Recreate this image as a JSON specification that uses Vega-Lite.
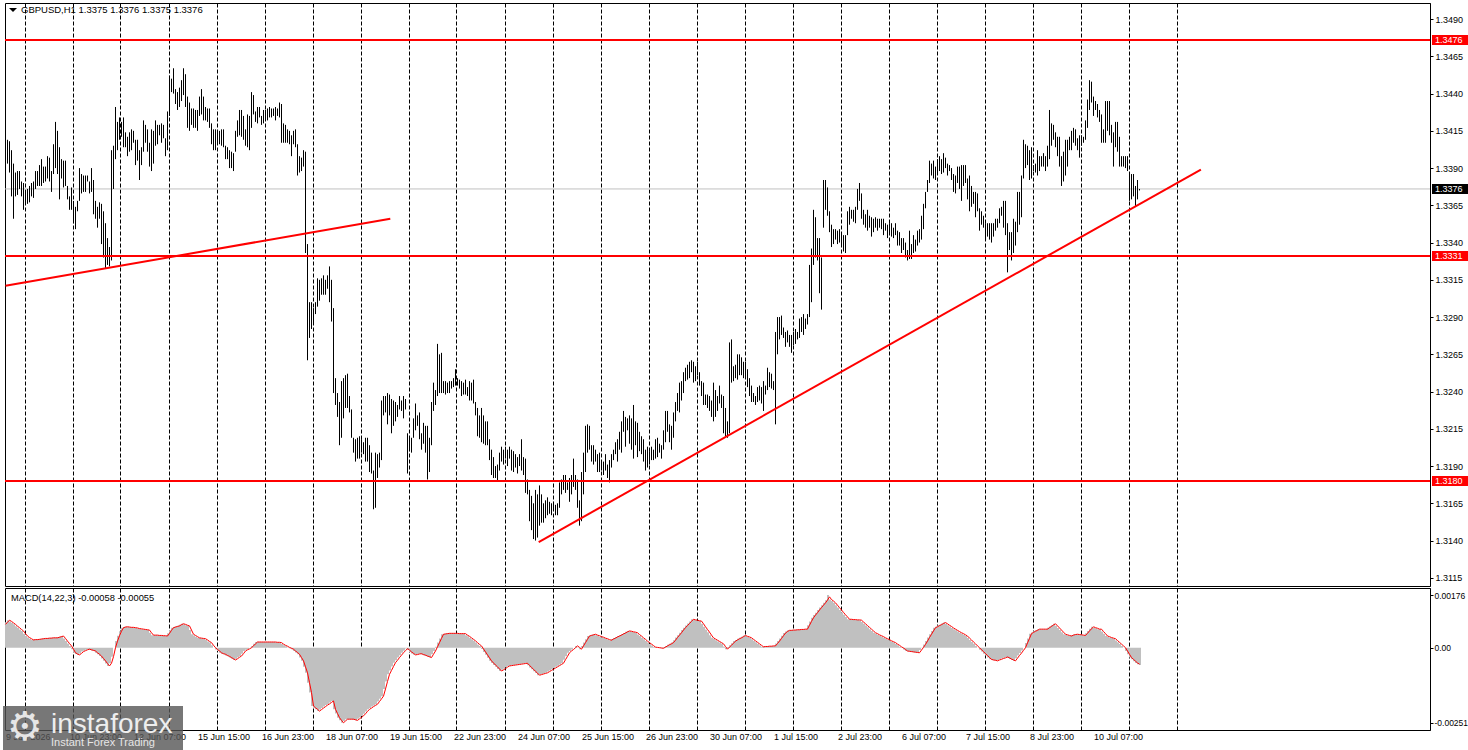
{
"$schema":"https://vega.github.io/schema/vega-lite/v6.json",
"background":"#ffffff",
"padding":{"left":2,"top":2,"right":0,"bottom":0},
"autosize":{"type":"pad"},
"spacing":0,
"config":{"font":"Liberation Sans","view":{"stroke":"#000000","strokeWidth":1},"axis":{"labelFont":"Liberation Sans","labelFontSize":9,"labelColor":"#000000","tickColor":"#000000","domainColor":"#000000","title":null,"labelOverlap":false,"labelBound":false,"labelFlush":false,"tickCount":200}},
"datasets":{
"levels":[{"p":1.3476,"k":"level"},{"p":1.3331,"k":"level"},{"p":1.318,"k":"level"},{"p":1.3376,"k":"last"}],
"trends":[{"i1":0,"p1":1.3311,"i2":192.4,"p2":1.3356},{"i1":266.6,"p1":1.3139,"i2":597.7,"p2":1.3389}],
"bars":[
{"i":0,"h":1.3405,"l":1.3396,"m":0.00085,"s":0.00078},
{"i":1,"h":1.3409,"l":1.3393,"m":0.00092,"s":0.00085},
{"i":2,"h":1.3408,"l":1.3387,"m":0.00088,"s":0.00092},
{"i":3,"h":1.3402,"l":1.3371,"m":0.00083,"s":0.00088},
{"i":4,"h":1.3393,"l":1.3356,"m":0.00078,"s":0.00083},
{"i":5,"h":1.3387,"l":1.3371,"m":0.00072,"s":0.00078},
{"i":6,"h":1.3388,"l":1.3372,"m":0.00067,"s":0.00072},
{"i":7,"h":1.3388,"l":1.3376,"m":0.00061,"s":0.00067},
{"i":8,"h":1.3381,"l":1.3371,"m":0.00056,"s":0.00061},
{"i":9,"h":1.338,"l":1.3362,"m":0.00047,"s":0.00056},
{"i":10,"h":1.3374,"l":1.3366,"m":0.00039,"s":0.00047},
{"i":11,"h":1.3376,"l":1.3366,"m":0.00034,"s":0.00039},
{"i":12,"h":1.3378,"l":1.3367,"m":0.0003,"s":0.00034},
{"i":13,"h":1.338,"l":1.3371,"m":0.00026,"s":0.0003},
{"i":14,"h":1.3381,"l":1.337,"m":0.00027,"s":0.00026},
{"i":15,"h":1.3388,"l":1.3376,"m":0.00027,"s":0.00027},
{"i":16,"h":1.3388,"l":1.3378,"m":0.00028,"s":0.00027},
{"i":17,"h":1.3392,"l":1.3378,"m":0.00029,"s":0.00028},
{"i":18,"h":1.3396,"l":1.3378,"m":0.0003,"s":0.00029},
{"i":19,"h":1.3391,"l":1.338,"m":0.00031,"s":0.0003},
{"i":20,"h":1.3391,"l":1.3381,"m":0.00031,"s":0.00031},
{"i":21,"h":1.3398,"l":1.3383,"m":0.00032,"s":0.00031},
{"i":22,"h":1.3397,"l":1.3381,"m":0.00032,"s":0.00032},
{"i":23,"h":1.3388,"l":1.3374,"m":0.00033,"s":0.00032},
{"i":24,"h":1.3406,"l":1.3386,"m":0.00033,"s":0.00033},
{"i":25,"h":1.3421,"l":1.339,"m":0.00033,"s":0.00033},
{"i":26,"h":1.3415,"l":1.3386,"m":0.00035,"s":0.00033},
{"i":27,"h":1.3404,"l":1.3369,"m":0.00037,"s":0.00035},
{"i":28,"h":1.3396,"l":1.3383,"m":0.00039,"s":0.00037},
{"i":29,"h":1.3395,"l":1.3377,"m":0.00031,"s":0.00039},
{"i":30,"h":1.3395,"l":1.3378,"m":0.00022,"s":0.00031},
{"i":31,"h":1.3378,"l":1.3369,"m":0.00014,"s":0.00022},
{"i":32,"h":1.3371,"l":1.3362,"m":0.00006,"s":0.00014},
{"i":33,"h":1.3377,"l":1.3362,"m":-0.00005,"s":0.00006},
{"i":34,"h":1.3368,"l":1.3353,"m":-0.00017,"s":-0.00005},
{"i":35,"h":1.3364,"l":1.3349,"m":-0.00021,"s":-0.00017},
{"i":36,"h":1.3368,"l":1.3361,"m":-0.00024,"s":-0.00021},
{"i":37,"h":1.339,"l":1.3368,"m":-0.00019,"s":-0.00024},
{"i":38,"h":1.3386,"l":1.3373,"m":-0.00013,"s":-0.00019},
{"i":39,"h":1.3385,"l":1.3374,"m":-0.0001,"s":-0.00013},
{"i":40,"h":1.3385,"l":1.3374,"m":-0.00007,"s":-0.0001},
{"i":41,"h":1.3385,"l":1.3381,"m":-0.00005,"s":-0.00007},
{"i":42,"h":1.3381,"l":1.3373,"m":-0.00007,"s":-0.00005},
{"i":43,"h":1.339,"l":1.3374,"m":-0.00009,"s":-0.00007},
{"i":44,"h":1.3382,"l":1.3359,"m":-0.00011,"s":-0.00009},
{"i":45,"h":1.3368,"l":1.3356,"m":-0.00017,"s":-0.00011},
{"i":46,"h":1.3364,"l":1.335,"m":-0.00022,"s":-0.00017},
{"i":47,"h":1.3367,"l":1.3356,"m":-0.00028,"s":-0.00022},
{"i":48,"h":1.3366,"l":1.3339,"m":-0.00036,"s":-0.00028},
{"i":49,"h":1.3361,"l":1.333,"m":-0.00044,"s":-0.00036},
{"i":50,"h":1.3353,"l":1.3323,"m":-0.00053,"s":-0.00044},
{"i":51,"h":1.3343,"l":1.3325,"m":-0.00061,"s":-0.00053},
{"i":52,"h":1.3337,"l":1.3324,"m":-0.00052,"s":-0.00061},
{"i":53,"h":1.3402,"l":1.3328,"m":-0.0003,"s":-0.00052},
{"i":54,"h":1.3405,"l":1.3376,"m":0,"s":-0.0003},
{"i":55,"h":1.3431,"l":1.3396,"m":0.00022,"s":0},
{"i":56,"h":1.3421,"l":1.3402,"m":0.0004,"s":0.00022},
{"i":57,"h":1.3424,"l":1.3409,"m":0.00055,"s":0.0004},
{"i":58,"h":1.3421,"l":1.3411,"m":0.00067,"s":0.00055},
{"i":59,"h":1.3424,"l":1.3404,"m":0.00069,"s":0.00067},
{"i":60,"h":1.3414,"l":1.3404,"m":0.0007,"s":0.00069},
{"i":61,"h":1.3411,"l":1.3398,"m":0.00069,"s":0.0007},
{"i":62,"h":1.3414,"l":1.3401,"m":0.00068,"s":0.00069},
{"i":63,"h":1.3416,"l":1.3402,"m":0.00068,"s":0.00068},
{"i":64,"h":1.3415,"l":1.3407,"m":0.00067,"s":0.00068},
{"i":65,"h":1.3409,"l":1.3392,"m":0.00066,"s":0.00067},
{"i":66,"h":1.3409,"l":1.3395,"m":0.00064,"s":0.00066},
{"i":67,"h":1.3402,"l":1.3382,"m":0.00063,"s":0.00064},
{"i":68,"h":1.3404,"l":1.3392,"m":0.00062,"s":0.00063},
{"i":69,"h":1.3422,"l":1.3401,"m":0.00061,"s":0.00062},
{"i":70,"h":1.3419,"l":1.3407,"m":0.0006,"s":0.00061},
{"i":71,"h":1.3416,"l":1.3401,"m":0.00059,"s":0.0006},
{"i":72,"h":1.3407,"l":1.3391,"m":0.0005,"s":0.00059},
{"i":73,"h":1.3416,"l":1.3388,"m":0.00042,"s":0.0005},
{"i":74,"h":1.3415,"l":1.3393,"m":0.00042,"s":0.00042},
{"i":75,"h":1.3422,"l":1.3405,"m":0.00042,"s":0.00042},
{"i":76,"h":1.3419,"l":1.3406,"m":0.00041,"s":0.00042},
{"i":77,"h":1.3419,"l":1.3412,"m":0.00041,"s":0.00041},
{"i":78,"h":1.342,"l":1.3407,"m":0.0004,"s":0.00041},
{"i":79,"h":1.3419,"l":1.341,"m":0.0004,"s":0.0004},
{"i":80,"h":1.341,"l":1.3398,"m":0.00039,"s":0.0004},
{"i":81,"h":1.3428,"l":1.3402,"m":0.00048,"s":0.00039},
{"i":82,"h":1.3452,"l":1.3425,"m":0.00058,"s":0.00048},
{"i":83,"h":1.345,"l":1.3441,"m":0.00067,"s":0.00058},
{"i":84,"h":1.3457,"l":1.344,"m":0.00069,"s":0.00067},
{"i":85,"h":1.3443,"l":1.3433,"m":0.00071,"s":0.00069},
{"i":86,"h":1.3441,"l":1.3429,"m":0.00073,"s":0.00071},
{"i":87,"h":1.3444,"l":1.3431,"m":0.00077,"s":0.00073},
{"i":88,"h":1.3449,"l":1.3435,"m":0.0008,"s":0.00077},
{"i":89,"h":1.3457,"l":1.3439,"m":0.00078,"s":0.0008},
{"i":90,"h":1.3453,"l":1.3431,"m":0.00075,"s":0.00078},
{"i":91,"h":1.3438,"l":1.3417,"m":0.00073,"s":0.00075},
{"i":92,"h":1.3434,"l":1.3415,"m":0.00059,"s":0.00073},
{"i":93,"h":1.343,"l":1.3419,"m":0.00045,"s":0.00059},
{"i":94,"h":1.343,"l":1.3417,"m":0.00041,"s":0.00045},
{"i":95,"h":1.3429,"l":1.3417,"m":0.00037,"s":0.00041},
{"i":96,"h":1.3429,"l":1.3415,"m":0.00033,"s":0.00037},
{"i":97,"h":1.3438,"l":1.3425,"m":0.00032,"s":0.00033},
{"i":98,"h":1.3443,"l":1.3426,"m":0.00031,"s":0.00032},
{"i":99,"h":1.3438,"l":1.3422,"m":0.0003,"s":0.00031},
{"i":100,"h":1.3431,"l":1.3422,"m":0.00026,"s":0.0003},
{"i":101,"h":1.343,"l":1.3421,"m":0.00021,"s":0.00026},
{"i":102,"h":1.343,"l":1.3417,"m":0.00017,"s":0.00021},
{"i":103,"h":1.342,"l":1.3406,"m":0.00008,"s":0.00017},
{"i":104,"h":1.3416,"l":1.3402,"m":0,"s":0.00008},
{"i":105,"h":1.3416,"l":1.3402,"m":-0.00006,"s":0},
{"i":106,"h":1.3415,"l":1.3406,"m":-0.00011,"s":-0.00006},
{"i":107,"h":1.3415,"l":1.3406,"m":-0.00017,"s":-0.00011},
{"i":108,"h":1.3416,"l":1.3405,"m":-0.0002,"s":-0.00017},
{"i":109,"h":1.3416,"l":1.3404,"m":-0.00022,"s":-0.0002},
{"i":110,"h":1.3405,"l":1.3396,"m":-0.00026,"s":-0.00022},
{"i":111,"h":1.3404,"l":1.3396,"m":-0.00029,"s":-0.00026},
{"i":112,"h":1.3402,"l":1.339,"m":-0.00033,"s":-0.00029},
{"i":113,"h":1.3401,"l":1.339,"m":-0.00037,"s":-0.00033},
{"i":114,"h":1.34,"l":1.3388,"m":-0.00041,"s":-0.00037},
{"i":115,"h":1.3415,"l":1.3401,"m":-0.00037,"s":-0.00041},
{"i":116,"h":1.3422,"l":1.3411,"m":-0.00032,"s":-0.00037},
{"i":117,"h":1.3429,"l":1.3412,"m":-0.00028,"s":-0.00032},
{"i":118,"h":1.3429,"l":1.3411,"m":-0.0002,"s":-0.00028},
{"i":119,"h":1.3425,"l":1.3409,"m":-0.00011,"s":-0.0002},
{"i":120,"h":1.3416,"l":1.3405,"m":-0.00007,"s":-0.00011},
{"i":121,"h":1.3426,"l":1.3404,"m":-0.00004,"s":-0.00007},
{"i":122,"h":1.3425,"l":1.3402,"m":0,"s":-0.00004},
{"i":123,"h":1.3441,"l":1.3417,"m":0.00006,"s":0},
{"i":124,"h":1.3439,"l":1.3426,"m":0.00013,"s":0.00006},
{"i":125,"h":1.3428,"l":1.3421,"m":0.00019,"s":0.00013},
{"i":126,"h":1.3431,"l":1.342,"m":0.00019,"s":0.00019},
{"i":127,"h":1.3431,"l":1.3424,"m":0.00019,"s":0.00019},
{"i":128,"h":1.3425,"l":1.3419,"m":0.00019,"s":0.00019},
{"i":129,"h":1.3429,"l":1.342,"m":0.00019,"s":0.00019},
{"i":130,"h":1.3429,"l":1.3422,"m":0.00019,"s":0.00019},
{"i":131,"h":1.343,"l":1.3422,"m":0.00019,"s":0.00019},
{"i":132,"h":1.3431,"l":1.3424,"m":0.00019,"s":0.00019},
{"i":133,"h":1.343,"l":1.3424,"m":0.00019,"s":0.00019},
{"i":134,"h":1.343,"l":1.3425,"m":0.00019,"s":0.00019},
{"i":135,"h":1.3431,"l":1.3422,"m":0.00018,"s":0.00019},
{"i":136,"h":1.343,"l":1.3425,"m":0.00018,"s":0.00018},
{"i":137,"h":1.3434,"l":1.3424,"m":0.00017,"s":0.00018},
{"i":138,"h":1.3433,"l":1.3407,"m":0.00012,"s":0.00017},
{"i":139,"h":1.342,"l":1.3407,"m":0.00008,"s":0.00012},
{"i":140,"h":1.3419,"l":1.3407,"m":0.00005,"s":0.00008},
{"i":141,"h":1.3416,"l":1.3407,"m":0.00001,"s":0.00005},
{"i":142,"h":1.3415,"l":1.3406,"m":-0.00002,"s":0.00001},
{"i":143,"h":1.3412,"l":1.3398,"m":-0.00005,"s":-0.00002},
{"i":144,"h":1.3415,"l":1.3406,"m":-0.00011,"s":-0.00005},
{"i":145,"h":1.3416,"l":1.3404,"m":-0.00016,"s":-0.00011},
{"i":146,"h":1.3406,"l":1.3385,"m":-0.00022,"s":-0.00016},
{"i":147,"h":1.3398,"l":1.3387,"m":-0.00033,"s":-0.00022},
{"i":148,"h":1.3397,"l":1.3388,"m":-0.00044,"s":-0.00033},
{"i":149,"h":1.3402,"l":1.3391,"m":-0.00064,"s":-0.00044},
{"i":150,"h":1.3401,"l":1.3333,"m":-0.00084,"s":-0.00064},
{"i":151,"h":1.3339,"l":1.3261,"m":-0.00117,"s":-0.00084},
{"i":152,"h":1.33,"l":1.3276,"m":-0.0015,"s":-0.00117},
{"i":153,"h":1.33,"l":1.3282,"m":-0.00195,"s":-0.0015},
{"i":154,"h":1.3296,"l":1.3285,"m":-0.00201,"s":-0.00195},
{"i":155,"h":1.33,"l":1.3292,"m":-0.00206,"s":-0.00201},
{"i":156,"h":1.3316,"l":1.3297,"m":-0.00212,"s":-0.00206},
{"i":157,"h":1.3315,"l":1.3301,"m":-0.00207,"s":-0.00212},
{"i":158,"h":1.3316,"l":1.3305,"m":-0.00202,"s":-0.00207},
{"i":159,"h":1.3318,"l":1.3305,"m":-0.00197,"s":-0.00202},
{"i":160,"h":1.3315,"l":1.3305,"m":-0.00192,"s":-0.00197},
{"i":161,"h":1.3318,"l":1.3309,"m":-0.00188,"s":-0.00192},
{"i":162,"h":1.3324,"l":1.33,"m":-0.00183,"s":-0.00188},
{"i":163,"h":1.3315,"l":1.3287,"m":-0.00178,"s":-0.00183},
{"i":164,"h":1.3296,"l":1.3239,"m":-0.00206,"s":-0.00178},
{"i":165,"h":1.3249,"l":1.3231,"m":-0.0022,"s":-0.00206},
{"i":166,"h":1.3239,"l":1.3223,"m":-0.00234,"s":-0.0022},
{"i":167,"h":1.3233,"l":1.3204,"m":-0.00243,"s":-0.00234},
{"i":168,"h":1.3247,"l":1.3209,"m":-0.00251,"s":-0.00243},
{"i":169,"h":1.3249,"l":1.3222,"m":-0.00245,"s":-0.00251},
{"i":170,"h":1.3251,"l":1.3229,"m":-0.00239,"s":-0.00245},
{"i":171,"h":1.3252,"l":1.3229,"m":-0.00239,"s":-0.00239},
{"i":172,"h":1.3237,"l":1.3226,"m":-0.00239,"s":-0.00239},
{"i":173,"h":1.3228,"l":1.3209,"m":-0.00239,"s":-0.00239},
{"i":174,"h":1.3209,"l":1.3199,"m":-0.00241,"s":-0.00239},
{"i":175,"h":1.3208,"l":1.3193,"m":-0.00243,"s":-0.00241},
{"i":176,"h":1.3209,"l":1.3195,"m":-0.00238,"s":-0.00243},
{"i":177,"h":1.321,"l":1.3195,"m":-0.00233,"s":-0.00238},
{"i":178,"h":1.3208,"l":1.3199,"m":-0.00228,"s":-0.00233},
{"i":179,"h":1.3206,"l":1.3198,"m":-0.00221,"s":-0.00228},
{"i":180,"h":1.3209,"l":1.3193,"m":-0.00213,"s":-0.00221},
{"i":181,"h":1.3209,"l":1.3193,"m":-0.00206,"s":-0.00213},
{"i":182,"h":1.3204,"l":1.3186,"m":-0.00202,"s":-0.00206},
{"i":183,"h":1.3199,"l":1.3185,"m":-0.00197,"s":-0.00202},
{"i":184,"h":1.3187,"l":1.3161,"m":-0.00193,"s":-0.00197},
{"i":185,"h":1.3199,"l":1.3162,"m":-0.00189,"s":-0.00193},
{"i":186,"h":1.3198,"l":1.3182,"m":-0.0018,"s":-0.00189},
{"i":187,"h":1.3199,"l":1.3189,"m":-0.00171,"s":-0.0018},
{"i":188,"h":1.3234,"l":1.3194,"m":-0.00162,"s":-0.00171},
{"i":189,"h":1.3237,"l":1.3224,"m":-0.00138,"s":-0.00162},
{"i":190,"h":1.3237,"l":1.3226,"m":-0.00113,"s":-0.00138},
{"i":191,"h":1.3239,"l":1.3218,"m":-0.00089,"s":-0.00113},
{"i":192,"h":1.3238,"l":1.3224,"m":-0.00076,"s":-0.00089},
{"i":193,"h":1.3235,"l":1.3212,"m":-0.00063,"s":-0.00076},
{"i":194,"h":1.3234,"l":1.3217,"m":-0.0005,"s":-0.00063},
{"i":195,"h":1.3233,"l":1.322,"m":-0.00042,"s":-0.0005},
{"i":196,"h":1.3231,"l":1.3223,"m":-0.00033,"s":-0.00042},
{"i":197,"h":1.3237,"l":1.3228,"m":-0.00025,"s":-0.00033},
{"i":198,"h":1.3234,"l":1.3227,"m":-0.00017,"s":-0.00025},
{"i":199,"h":1.3237,"l":1.3222,"m":-0.0001,"s":-0.00017},
{"i":200,"h":1.3235,"l":1.3228,"m":-0.00003,"s":-0.0001},
{"i":201,"h":1.3212,"l":1.3185,"m":-0.00008,"s":-0.00003},
{"i":202,"h":1.321,"l":1.32,"m":-0.00014,"s":-0.00008},
{"i":203,"h":1.3209,"l":1.3199,"m":-0.00019,"s":-0.00014},
{"i":204,"h":1.3222,"l":1.3209,"m":-0.00024,"s":-0.00019},
{"i":205,"h":1.3232,"l":1.3214,"m":-0.00023,"s":-0.00024},
{"i":206,"h":1.3224,"l":1.3217,"m":-0.00021,"s":-0.00023},
{"i":207,"h":1.3226,"l":1.3208,"m":-0.0002,"s":-0.00021},
{"i":208,"h":1.3212,"l":1.3201,"m":-0.00023,"s":-0.0002},
{"i":209,"h":1.3219,"l":1.3205,"m":-0.00025,"s":-0.00023},
{"i":210,"h":1.3217,"l":1.3199,"m":-0.00028,"s":-0.00025},
{"i":211,"h":1.3217,"l":1.3181,"m":-0.0003,"s":-0.00028},
{"i":212,"h":1.3209,"l":1.3186,"m":-0.00033,"s":-0.0003},
{"i":213,"h":1.3233,"l":1.3204,"m":-0.00022,"s":-0.00033},
{"i":214,"h":1.3246,"l":1.3227,"m":-0.00011,"s":-0.00022},
{"i":215,"h":1.3241,"l":1.3231,"m":0.00003,"s":-0.00011},
{"i":216,"h":1.3272,"l":1.3237,"m":0.00017,"s":0.00003},
{"i":217,"h":1.3265,"l":1.3239,"m":0.00031,"s":0.00017},
{"i":218,"h":1.3266,"l":1.3239,"m":0.00045,"s":0.00031},
{"i":219,"h":1.3247,"l":1.3239,"m":0.00046,"s":0.00045},
{"i":220,"h":1.3247,"l":1.3238,"m":0.00047,"s":0.00046},
{"i":221,"h":1.3246,"l":1.3239,"m":0.00048,"s":0.00047},
{"i":222,"h":1.3247,"l":1.3239,"m":0.00048,"s":0.00048},
{"i":223,"h":1.3247,"l":1.3242,"m":0.00048,"s":0.00048},
{"i":224,"h":1.3249,"l":1.3243,"m":0.00048,"s":0.00048},
{"i":225,"h":1.3255,"l":1.3244,"m":0.00048,"s":0.00048},
{"i":226,"h":1.3249,"l":1.3244,"m":0.00047,"s":0.00048},
{"i":227,"h":1.3248,"l":1.3242,"m":0.00047,"s":0.00047},
{"i":228,"h":1.3247,"l":1.3237,"m":0.00047,"s":0.00047},
{"i":229,"h":1.3246,"l":1.3238,"m":0.00047,"s":0.00047},
{"i":230,"h":1.3248,"l":1.3238,"m":0.00042,"s":0.00047},
{"i":231,"h":1.3243,"l":1.3237,"m":0.00038,"s":0.00042},
{"i":232,"h":1.3247,"l":1.3234,"m":0.00033,"s":0.00038},
{"i":233,"h":1.3246,"l":1.3234,"m":0.00028,"s":0.00033},
{"i":234,"h":1.3248,"l":1.3232,"m":0.00023,"s":0.00028},
{"i":235,"h":1.3233,"l":1.3224,"m":0.00017,"s":0.00023},
{"i":236,"h":1.3229,"l":1.321,"m":0.00011,"s":0.00017},
{"i":237,"h":1.3224,"l":1.3209,"m":0.00006,"s":0.00011},
{"i":238,"h":1.3229,"l":1.3206,"m":-0.00004,"s":0.00006},
{"i":239,"h":1.3224,"l":1.3205,"m":-0.00014,"s":-0.00004},
{"i":240,"h":1.322,"l":1.3204,"m":-0.00024,"s":-0.00014},
{"i":241,"h":1.322,"l":1.3204,"m":-0.00034,"s":-0.00024},
{"i":242,"h":1.3208,"l":1.3194,"m":-0.00044,"s":-0.00034},
{"i":243,"h":1.3201,"l":1.3184,"m":-0.00051,"s":-0.00044},
{"i":244,"h":1.3196,"l":1.3182,"m":-0.00058,"s":-0.00051},
{"i":245,"h":1.319,"l":1.3182,"m":-0.00064,"s":-0.00058},
{"i":246,"h":1.3191,"l":1.318,"m":-0.00071,"s":-0.00064},
{"i":247,"h":1.3199,"l":1.3187,"m":-0.00078,"s":-0.00071},
{"i":248,"h":1.3203,"l":1.3193,"m":-0.00074,"s":-0.00078},
{"i":249,"h":1.3201,"l":1.3191,"m":-0.0007,"s":-0.00074},
{"i":250,"h":1.3203,"l":1.3195,"m":-0.00065,"s":-0.0007},
{"i":251,"h":1.3201,"l":1.319,"m":-0.00061,"s":-0.00065},
{"i":252,"h":1.3203,"l":1.3195,"m":-0.0006,"s":-0.00061},
{"i":253,"h":1.3201,"l":1.3187,"m":-0.00059,"s":-0.0006},
{"i":254,"h":1.32,"l":1.3186,"m":-0.00058,"s":-0.00059},
{"i":255,"h":1.3198,"l":1.3189,"m":-0.00057,"s":-0.00058},
{"i":256,"h":1.3196,"l":1.3185,"m":-0.00056,"s":-0.00057},
{"i":257,"h":1.3198,"l":1.319,"m":-0.00055,"s":-0.00056},
{"i":258,"h":1.3208,"l":1.3187,"m":-0.00054,"s":-0.00055},
{"i":259,"h":1.3196,"l":1.3184,"m":-0.00053,"s":-0.00054},
{"i":260,"h":1.3195,"l":1.3172,"m":-0.00052,"s":-0.00053},
{"i":261,"h":1.3181,"l":1.3171,"m":-0.00059,"s":-0.00052},
{"i":262,"h":1.3174,"l":1.3153,"m":-0.00066,"s":-0.00059},
{"i":263,"h":1.317,"l":1.3147,"m":-0.00072,"s":-0.00066},
{"i":264,"h":1.3165,"l":1.3141,"m":-0.00079,"s":-0.00072},
{"i":265,"h":1.3174,"l":1.314,"m":-0.00085,"s":-0.00079},
{"i":266,"h":1.3171,"l":1.3142,"m":-0.00092,"s":-0.00085},
{"i":267,"h":1.3177,"l":1.315,"m":-0.0009,"s":-0.00092},
{"i":268,"h":1.3171,"l":1.3152,"m":-0.00088,"s":-0.0009},
{"i":269,"h":1.3165,"l":1.3152,"m":-0.00086,"s":-0.00088},
{"i":270,"h":1.3167,"l":1.3155,"m":-0.00084,"s":-0.00086},
{"i":271,"h":1.3169,"l":1.3157,"m":-0.0008,"s":-0.00084},
{"i":272,"h":1.3166,"l":1.3158,"m":-0.00076,"s":-0.0008},
{"i":273,"h":1.3165,"l":1.3157,"m":-0.00072,"s":-0.00076},
{"i":274,"h":1.3166,"l":1.316,"m":-0.00068,"s":-0.00072},
{"i":275,"h":1.3164,"l":1.3157,"m":-0.00064,"s":-0.00068},
{"i":276,"h":1.3165,"l":1.3157,"m":-0.0006,"s":-0.00064},
{"i":277,"h":1.3179,"l":1.3162,"m":-0.00056,"s":-0.0006},
{"i":278,"h":1.3181,"l":1.3171,"m":-0.00052,"s":-0.00056},
{"i":279,"h":1.3184,"l":1.3174,"m":-0.0004,"s":-0.00052},
{"i":280,"h":1.3184,"l":1.3172,"m":-0.00029,"s":-0.0004},
{"i":281,"h":1.3179,"l":1.3174,"m":-0.00017,"s":-0.00029},
{"i":282,"h":1.3182,"l":1.3166,"m":-0.00011,"s":-0.00017},
{"i":283,"h":1.3184,"l":1.3171,"m":-0.00006,"s":-0.00011},
{"i":284,"h":1.3195,"l":1.3176,"m":0,"s":-0.00006},
{"i":285,"h":1.3184,"l":1.3174,"m":0.00006,"s":0},
{"i":286,"h":1.3181,"l":1.3162,"m":0.00001,"s":0.00006},
{"i":287,"h":1.3167,"l":1.315,"m":-0.00005,"s":0.00001},
{"i":288,"h":1.3186,"l":1.3153,"m":0.00006,"s":-0.00005},
{"i":289,"h":1.3199,"l":1.3171,"m":0.00017,"s":0.00006},
{"i":290,"h":1.3217,"l":1.3186,"m":0.00028,"s":0.00017},
{"i":291,"h":1.3218,"l":1.3199,"m":0.00039,"s":0.00028},
{"i":292,"h":1.3217,"l":1.3201,"m":0.00041,"s":0.00039},
{"i":293,"h":1.3204,"l":1.3193,"m":0.00043,"s":0.00041},
{"i":294,"h":1.3204,"l":1.3191,"m":0.00045,"s":0.00043},
{"i":295,"h":1.3201,"l":1.3193,"m":0.00042,"s":0.00045},
{"i":296,"h":1.3198,"l":1.3186,"m":0.0004,"s":0.00042},
{"i":297,"h":1.3199,"l":1.3186,"m":0.00037,"s":0.0004},
{"i":298,"h":1.3194,"l":1.3187,"m":0.00035,"s":0.00037},
{"i":299,"h":1.3193,"l":1.3184,"m":0.00032,"s":0.00035},
{"i":300,"h":1.3198,"l":1.3187,"m":0.0003,"s":0.00032},
{"i":301,"h":1.3191,"l":1.3182,"m":0.00027,"s":0.0003},
{"i":302,"h":1.3194,"l":1.3179,"m":0.00025,"s":0.00027},
{"i":303,"h":1.3198,"l":1.3189,"m":0.00029,"s":0.00025},
{"i":304,"h":1.3201,"l":1.3194,"m":0.00032,"s":0.00029},
{"i":305,"h":1.3206,"l":1.3198,"m":0.00036,"s":0.00032},
{"i":306,"h":1.3208,"l":1.3193,"m":0.00039,"s":0.00036},
{"i":307,"h":1.3213,"l":1.3201,"m":0.00042,"s":0.00039},
{"i":308,"h":1.322,"l":1.3199,"m":0.00046,"s":0.00042},
{"i":309,"h":1.3227,"l":1.3213,"m":0.00049,"s":0.00046},
{"i":310,"h":1.3223,"l":1.3203,"m":0.00053,"s":0.00049},
{"i":311,"h":1.3222,"l":1.3214,"m":0.00056,"s":0.00053},
{"i":312,"h":1.3224,"l":1.3205,"m":0.00055,"s":0.00056},
{"i":313,"h":1.3222,"l":1.3201,"m":0.00053,"s":0.00055},
{"i":314,"h":1.3231,"l":1.3195,"m":0.00052,"s":0.00053},
{"i":315,"h":1.322,"l":1.3204,"m":0.0005,"s":0.00052},
{"i":316,"h":1.3219,"l":1.3196,"m":0.00044,"s":0.0005},
{"i":317,"h":1.3213,"l":1.32,"m":0.00039,"s":0.00044},
{"i":318,"h":1.321,"l":1.3198,"m":0.00033,"s":0.00039},
{"i":319,"h":1.3208,"l":1.3193,"m":0.00028,"s":0.00033},
{"i":320,"h":1.3201,"l":1.3187,"m":0.00022,"s":0.00028},
{"i":321,"h":1.3203,"l":1.3189,"m":0.00017,"s":0.00022},
{"i":322,"h":1.32,"l":1.3191,"m":0.00012,"s":0.00017},
{"i":323,"h":1.3203,"l":1.3194,"m":0.00007,"s":0.00012},
{"i":324,"h":1.3201,"l":1.3194,"m":0.00002,"s":0.00007},
{"i":325,"h":1.3208,"l":1.3195,"m":0.00001,"s":0.00002},
{"i":326,"h":1.3209,"l":1.3196,"m":0,"s":0.00001},
{"i":327,"h":1.3205,"l":1.3199,"m":-0.00001,"s":0},
{"i":328,"h":1.3204,"l":1.3195,"m":-0.00002,"s":-0.00001},
{"i":329,"h":1.3214,"l":1.3201,"m":0.00002,"s":-0.00002},
{"i":330,"h":1.3227,"l":1.3206,"m":0.00006,"s":0.00002},
{"i":331,"h":1.3227,"l":1.3213,"m":0.0001,"s":0.00006},
{"i":332,"h":1.3218,"l":1.3206,"m":0.00013,"s":0.0001},
{"i":333,"h":1.3217,"l":1.3201,"m":0.00017,"s":0.00013},
{"i":334,"h":1.3226,"l":1.3209,"m":0.00025,"s":0.00017},
{"i":335,"h":1.3233,"l":1.322,"m":0.00034,"s":0.00025},
{"i":336,"h":1.3239,"l":1.3227,"m":0.00042,"s":0.00034},
{"i":337,"h":1.3246,"l":1.3226,"m":0.0005,"s":0.00042},
{"i":338,"h":1.3247,"l":1.3234,"m":0.00059,"s":0.0005},
{"i":339,"h":1.3253,"l":1.3239,"m":0.00067,"s":0.00059},
{"i":340,"h":1.3256,"l":1.3247,"m":0.00074,"s":0.00067},
{"i":341,"h":1.3258,"l":1.3248,"m":0.00081,"s":0.00074},
{"i":342,"h":1.326,"l":1.3249,"m":0.00088,"s":0.00081},
{"i":343,"h":1.3261,"l":1.3253,"m":0.00095,"s":0.00088},
{"i":344,"h":1.326,"l":1.3246,"m":0.00093,"s":0.00095},
{"i":345,"h":1.3257,"l":1.3247,"m":0.00092,"s":0.00093},
{"i":346,"h":1.326,"l":1.3251,"m":0.0009,"s":0.00092},
{"i":347,"h":1.3253,"l":1.3244,"m":0.00089,"s":0.0009},
{"i":348,"h":1.3247,"l":1.3237,"m":0.0008,"s":0.00089},
{"i":349,"h":1.3246,"l":1.3231,"m":0.0007,"s":0.0008},
{"i":350,"h":1.3238,"l":1.3231,"m":0.00061,"s":0.0007},
{"i":351,"h":1.3238,"l":1.3229,"m":0.00052,"s":0.00061},
{"i":352,"h":1.3237,"l":1.3227,"m":0.00042,"s":0.00052},
{"i":353,"h":1.3234,"l":1.3223,"m":0.00033,"s":0.00042},
{"i":354,"h":1.3246,"l":1.322,"m":0.00029,"s":0.00033},
{"i":355,"h":1.3241,"l":1.3223,"m":0.00025,"s":0.00029},
{"i":356,"h":1.3237,"l":1.3227,"m":0.00021,"s":0.00025},
{"i":357,"h":1.3244,"l":1.3232,"m":0.00017,"s":0.00021},
{"i":358,"h":1.3238,"l":1.3229,"m":0.00013,"s":0.00017},
{"i":359,"h":1.3237,"l":1.3212,"m":0.00004,"s":0.00013},
{"i":360,"h":1.3229,"l":1.321,"m":-0.00005,"s":0.00004},
{"i":361,"h":1.322,"l":1.3209,"m":0.00002,"s":-0.00005},
{"i":362,"h":1.3273,"l":1.3212,"m":0.00008,"s":0.00002},
{"i":363,"h":1.3275,"l":1.3246,"m":0.00015,"s":0.00008},
{"i":364,"h":1.3257,"l":1.3247,"m":0.00022,"s":0.00015},
{"i":365,"h":1.3258,"l":1.3249,"m":0.00026,"s":0.00022},
{"i":366,"h":1.3265,"l":1.3248,"m":0.0003,"s":0.00026},
{"i":367,"h":1.3265,"l":1.3251,"m":0.00033,"s":0.0003},
{"i":368,"h":1.3263,"l":1.3251,"m":0.00037,"s":0.00033},
{"i":369,"h":1.326,"l":1.3249,"m":0.00041,"s":0.00037},
{"i":370,"h":1.326,"l":1.3249,"m":0.00038,"s":0.00041},
{"i":371,"h":1.3255,"l":1.3243,"m":0.00036,"s":0.00038},
{"i":372,"h":1.3249,"l":1.3237,"m":0.00033,"s":0.00036},
{"i":373,"h":1.3244,"l":1.3233,"m":0.00028,"s":0.00033},
{"i":374,"h":1.3239,"l":1.3233,"m":0.00023,"s":0.00028},
{"i":375,"h":1.3237,"l":1.3231,"m":0.00018,"s":0.00023},
{"i":376,"h":1.3243,"l":1.3233,"m":0.00013,"s":0.00018},
{"i":377,"h":1.3244,"l":1.3234,"m":0.00008,"s":0.00013},
{"i":378,"h":1.3243,"l":1.3232,"m":0.00003,"s":0.00008},
{"i":379,"h":1.3247,"l":1.3227,"m":0.00004,"s":0.00003},
{"i":380,"h":1.3244,"l":1.3238,"m":0.00004,"s":0.00004},
{"i":381,"h":1.3256,"l":1.3241,"m":0.00005,"s":0.00004},
{"i":382,"h":1.3253,"l":1.3243,"m":0.00005,"s":0.00005},
{"i":383,"h":1.3252,"l":1.3242,"m":0.00006,"s":0.00005},
{"i":384,"h":1.3247,"l":1.3241,"m":0.00006,"s":0.00006},
{"i":385,"h":1.328,"l":1.3218,"m":0.00014,"s":0.00006},
{"i":386,"h":1.329,"l":1.3265,"m":0.00022,"s":0.00014},
{"i":387,"h":1.329,"l":1.3275,"m":0.00031,"s":0.00022},
{"i":388,"h":1.3291,"l":1.3278,"m":0.0004,"s":0.00031},
{"i":389,"h":1.3283,"l":1.3276,"m":0.00049,"s":0.0004},
{"i":390,"h":1.328,"l":1.327,"m":0.00054,"s":0.00049},
{"i":391,"h":1.3281,"l":1.3273,"m":0.00058,"s":0.00054},
{"i":392,"h":1.3278,"l":1.327,"m":0.00058,"s":0.00058},
{"i":393,"h":1.3278,"l":1.3266,"m":0.00059,"s":0.00058},
{"i":394,"h":1.328,"l":1.3271,"m":0.00059,"s":0.00059},
{"i":395,"h":1.3282,"l":1.3272,"m":0.0006,"s":0.00059},
{"i":396,"h":1.328,"l":1.3275,"m":0.0006,"s":0.0006},
{"i":397,"h":1.3289,"l":1.3276,"m":0.00061,"s":0.0006},
{"i":398,"h":1.329,"l":1.328,"m":0.00061,"s":0.00061},
{"i":399,"h":1.3292,"l":1.3278,"m":0.00062,"s":0.00061},
{"i":400,"h":1.3289,"l":1.3282,"m":0.00062,"s":0.00062},
{"i":401,"h":1.3292,"l":1.3285,"m":0.00075,"s":0.00062},
{"i":402,"h":1.3325,"l":1.329,"m":0.00088,"s":0.00075},
{"i":403,"h":1.3336,"l":1.33,"m":0.001,"s":0.00088},
{"i":404,"h":1.3362,"l":1.3325,"m":0.00109,"s":0.001},
{"i":405,"h":1.3357,"l":1.333,"m":0.00117,"s":0.00109},
{"i":406,"h":1.3343,"l":1.3328,"m":0.00126,"s":0.00117},
{"i":407,"h":1.3343,"l":1.3306,"m":0.00134,"s":0.00126},
{"i":408,"h":1.333,"l":1.3295,"m":0.00142,"s":0.00134},
{"i":409,"h":1.3382,"l":1.335,"m":0.0015,"s":0.00142},
{"i":410,"h":1.3382,"l":1.3362,"m":0.00159,"s":0.0015},
{"i":411,"h":1.3377,"l":1.3358,"m":0.00176,"s":0.00159},
{"i":412,"h":1.3361,"l":1.3347,"m":0.00161,"s":0.0017},
{"i":413,"h":1.3352,"l":1.3337,"m":0.00156,"s":0.00161},
{"i":414,"h":1.3349,"l":1.3339,"m":0.0015,"s":0.00156},
{"i":415,"h":1.3349,"l":1.3342,"m":0.00142,"s":0.0015},
{"i":416,"h":1.3348,"l":1.3339,"m":0.00134,"s":0.00142},
{"i":417,"h":1.3349,"l":1.334,"m":0.00126,"s":0.00134},
{"i":418,"h":1.3347,"l":1.3337,"m":0.00118,"s":0.00126},
{"i":419,"h":1.3345,"l":1.3334,"m":0.0011,"s":0.00118},
{"i":420,"h":1.3345,"l":1.3333,"m":0.00103,"s":0.0011},
{"i":421,"h":1.3361,"l":1.3345,"m":0.00095,"s":0.00103},
{"i":422,"h":1.3364,"l":1.3352,"m":0.00095,"s":0.00095},
{"i":423,"h":1.3362,"l":1.3356,"m":0.00094,"s":0.00095},
{"i":424,"h":1.3362,"l":1.3354,"m":0.00094,"s":0.00094},
{"i":425,"h":1.3364,"l":1.3353,"m":0.00093,"s":0.00094},
{"i":426,"h":1.3376,"l":1.3362,"m":0.00093,"s":0.00093},
{"i":427,"h":1.338,"l":1.3368,"m":0.00092,"s":0.00093},
{"i":428,"h":1.3373,"l":1.3356,"m":0.00086,"s":0.00092},
{"i":429,"h":1.3362,"l":1.3352,"m":0.0008,"s":0.00086},
{"i":430,"h":1.3359,"l":1.335,"m":0.00074,"s":0.0008},
{"i":431,"h":1.3362,"l":1.3348,"m":0.00068,"s":0.00074},
{"i":432,"h":1.3358,"l":1.335,"m":0.00062,"s":0.00068},
{"i":433,"h":1.3357,"l":1.3344,"m":0.00056,"s":0.00062},
{"i":434,"h":1.3356,"l":1.3347,"m":0.0005,"s":0.00056},
{"i":435,"h":1.3357,"l":1.335,"m":0.00047,"s":0.0005},
{"i":436,"h":1.3356,"l":1.3348,"m":0.00043,"s":0.00047},
{"i":437,"h":1.3356,"l":1.335,"m":0.0004,"s":0.00043},
{"i":438,"h":1.3356,"l":1.3349,"m":0.00037,"s":0.0004},
{"i":439,"h":1.3356,"l":1.3345,"m":0.00033,"s":0.00037},
{"i":440,"h":1.3353,"l":1.3348,"m":0.0003,"s":0.00033},
{"i":441,"h":1.3352,"l":1.3343,"m":0.00027,"s":0.0003},
{"i":442,"h":1.3353,"l":1.3347,"m":0.00023,"s":0.00027},
{"i":443,"h":1.3353,"l":1.3344,"m":0.0002,"s":0.00023},
{"i":444,"h":1.335,"l":1.3343,"m":0.00017,"s":0.0002},
{"i":445,"h":1.3353,"l":1.3345,"m":0.00012,"s":0.00017},
{"i":446,"h":1.3348,"l":1.3338,"m":0.00008,"s":0.00012},
{"i":447,"h":1.3347,"l":1.3338,"m":0.00003,"s":0.00008},
{"i":448,"h":1.3343,"l":1.3333,"m":-0.00001,"s":0.00003},
{"i":449,"h":1.3343,"l":1.3335,"m":-0.00006,"s":-0.00001},
{"i":450,"h":1.334,"l":1.333,"m":-0.00011,"s":-0.00006},
{"i":451,"h":1.3335,"l":1.3328,"m":-0.00012,"s":-0.00011},
{"i":452,"h":1.3348,"l":1.3329,"m":-0.00013,"s":-0.00012},
{"i":453,"h":1.3339,"l":1.3329,"m":-0.00014,"s":-0.00013},
{"i":454,"h":1.3345,"l":1.3333,"m":-0.00015,"s":-0.00014},
{"i":455,"h":1.3342,"l":1.3334,"m":-0.00016,"s":-0.00015},
{"i":456,"h":1.3348,"l":1.3338,"m":-0.00017,"s":-0.00016},
{"i":457,"h":1.3349,"l":1.334,"m":-0.00008,"s":-0.00017},
{"i":458,"h":1.3358,"l":1.3342,"m":0.00001,"s":-0.00008},
{"i":459,"h":1.3366,"l":1.3349,"m":0.00011,"s":0.00001},
{"i":460,"h":1.3374,"l":1.3363,"m":0.00022,"s":0.00011},
{"i":461,"h":1.3382,"l":1.3374,"m":0.00034,"s":0.00022},
{"i":462,"h":1.3395,"l":1.338,"m":0.00045,"s":0.00034},
{"i":463,"h":1.3393,"l":1.3385,"m":0.00056,"s":0.00045},
{"i":464,"h":1.3395,"l":1.3383,"m":0.00067,"s":0.00056},
{"i":465,"h":1.3391,"l":1.3382,"m":0.0007,"s":0.00067},
{"i":466,"h":1.3396,"l":1.3387,"m":0.00074,"s":0.0007},
{"i":467,"h":1.3398,"l":1.3388,"m":0.00077,"s":0.00074},
{"i":468,"h":1.3396,"l":1.3386,"m":0.00081,"s":0.00077},
{"i":469,"h":1.34,"l":1.3387,"m":0.00084,"s":0.00081},
{"i":470,"h":1.3397,"l":1.339,"m":0.0008,"s":0.00084},
{"i":471,"h":1.3393,"l":1.3385,"m":0.00075,"s":0.0008},
{"i":472,"h":1.3392,"l":1.3388,"m":0.00071,"s":0.00075},
{"i":473,"h":1.339,"l":1.3382,"m":0.00066,"s":0.00071},
{"i":474,"h":1.3386,"l":1.3374,"m":0.00062,"s":0.00066},
{"i":475,"h":1.3385,"l":1.3373,"m":0.00058,"s":0.00062},
{"i":476,"h":1.3391,"l":1.338,"m":0.00054,"s":0.00058},
{"i":477,"h":1.3391,"l":1.3376,"m":0.0005,"s":0.00054},
{"i":478,"h":1.3392,"l":1.3368,"m":0.00047,"s":0.0005},
{"i":479,"h":1.3392,"l":1.3378,"m":0.00043,"s":0.00047},
{"i":480,"h":1.3392,"l":1.338,"m":0.00039,"s":0.00043},
{"i":481,"h":1.3383,"l":1.3369,"m":0.00032,"s":0.00039},
{"i":482,"h":1.3385,"l":1.3361,"m":0.00026,"s":0.00032},
{"i":483,"h":1.3378,"l":1.3364,"m":0.00019,"s":0.00026},
{"i":484,"h":1.3374,"l":1.3366,"m":0.00013,"s":0.00019},
{"i":485,"h":1.3374,"l":1.3357,"m":0.00006,"s":0.00013},
{"i":486,"h":1.3373,"l":1.3361,"m":0,"s":0.00006},
{"i":487,"h":1.3363,"l":1.3348,"m":-0.00007,"s":0},
{"i":488,"h":1.3361,"l":1.3352,"m":-0.00013,"s":-0.00007},
{"i":489,"h":1.3358,"l":1.335,"m":-0.0002,"s":-0.00013},
{"i":490,"h":1.3353,"l":1.3343,"m":-0.00026,"s":-0.0002},
{"i":491,"h":1.3353,"l":1.3344,"m":-0.00033,"s":-0.00026},
{"i":492,"h":1.3353,"l":1.3342,"m":-0.00039,"s":-0.00033},
{"i":493,"h":1.3353,"l":1.334,"m":-0.00041,"s":-0.00039},
{"i":494,"h":1.3353,"l":1.3344,"m":-0.00042,"s":-0.00041},
{"i":495,"h":1.3356,"l":1.3348,"m":-0.00044,"s":-0.00042},
{"i":496,"h":1.3356,"l":1.335,"m":-0.00041,"s":-0.00044},
{"i":497,"h":1.3363,"l":1.3353,"m":-0.00039,"s":-0.00041},
{"i":498,"h":1.3364,"l":1.3358,"m":-0.00036,"s":-0.00039},
{"i":499,"h":1.3368,"l":1.335,"m":-0.00034,"s":-0.00036},
{"i":500,"h":1.3368,"l":1.3345,"m":-0.00031,"s":-0.00034},
{"i":501,"h":1.3353,"l":1.332,"m":-0.00034,"s":-0.00031},
{"i":502,"h":1.3347,"l":1.3335,"m":-0.00038,"s":-0.00034},
{"i":503,"h":1.3347,"l":1.3328,"m":-0.00041,"s":-0.00038},
{"i":504,"h":1.3356,"l":1.3333,"m":-0.00044,"s":-0.00041},
{"i":505,"h":1.3354,"l":1.3338,"m":-0.00035,"s":-0.00044},
{"i":506,"h":1.3374,"l":1.3347,"m":-0.00026,"s":-0.00035},
{"i":507,"h":1.3374,"l":1.3352,"m":-0.00018,"s":-0.00026},
{"i":508,"h":1.3385,"l":1.3357,"m":-0.00009,"s":-0.00018},
{"i":509,"h":1.3409,"l":1.3383,"m":0,"s":-0.00009},
{"i":510,"h":1.3406,"l":1.339,"m":0.00016,"s":0},
{"i":511,"h":1.3405,"l":1.3392,"m":0.00031,"s":0.00016},
{"i":512,"h":1.3402,"l":1.3382,"m":0.00047,"s":0.00031},
{"i":513,"h":1.3404,"l":1.3383,"m":0.00051,"s":0.00047},
{"i":514,"h":1.3392,"l":1.3388,"m":0.00055,"s":0.00051},
{"i":515,"h":1.3393,"l":1.3387,"m":0.00058,"s":0.00055},
{"i":516,"h":1.3402,"l":1.3385,"m":0.00062,"s":0.00058},
{"i":517,"h":1.3398,"l":1.3388,"m":0.00062,"s":0.00062},
{"i":518,"h":1.3398,"l":1.3391,"m":0.00062,"s":0.00062},
{"i":519,"h":1.34,"l":1.3391,"m":0.00062,"s":0.00062},
{"i":520,"h":1.3398,"l":1.3388,"m":0.00062,"s":0.00062},
{"i":521,"h":1.3405,"l":1.3391,"m":0.00067,"s":0.00062},
{"i":522,"h":1.3429,"l":1.3396,"m":0.00071,"s":0.00067},
{"i":523,"h":1.342,"l":1.3405,"m":0.00076,"s":0.00071},
{"i":524,"h":1.3419,"l":1.3409,"m":0.0008,"s":0.00076},
{"i":525,"h":1.3414,"l":1.3404,"m":0.00073,"s":0.0008},
{"i":526,"h":1.3411,"l":1.3398,"m":0.00066,"s":0.00073},
{"i":527,"h":1.3411,"l":1.3391,"m":0.00059,"s":0.00066},
{"i":528,"h":1.3398,"l":1.3378,"m":0.00052,"s":0.00059},
{"i":529,"h":1.3401,"l":1.3381,"m":0.00045,"s":0.00052},
{"i":530,"h":1.3409,"l":1.3385,"m":0.00043,"s":0.00045},
{"i":531,"h":1.3409,"l":1.3391,"m":0.00041,"s":0.00043},
{"i":532,"h":1.3411,"l":1.3402,"m":0.00039,"s":0.00041},
{"i":533,"h":1.3415,"l":1.3402,"m":0.00042,"s":0.00039},
{"i":534,"h":1.3417,"l":1.3407,"m":0.00044,"s":0.00042},
{"i":535,"h":1.3416,"l":1.3405,"m":0.00045,"s":0.00044},
{"i":536,"h":1.341,"l":1.3402,"m":0.00044,"s":0.00045},
{"i":537,"h":1.3412,"l":1.3397,"m":0.00043,"s":0.00044},
{"i":538,"h":1.3412,"l":1.3405,"m":0.00042,"s":0.00043},
{"i":539,"h":1.3411,"l":1.3407,"m":0.00041,"s":0.00042},
{"i":540,"h":1.3422,"l":1.3409,"m":0.00048,"s":0.00041},
{"i":541,"h":1.3436,"l":1.3417,"m":0.00056,"s":0.00048},
{"i":542,"h":1.3449,"l":1.3429,"m":0.00063,"s":0.00056},
{"i":543,"h":1.3448,"l":1.3434,"m":0.0007,"s":0.00063},
{"i":544,"h":1.3438,"l":1.3425,"m":0.00067,"s":0.0007},
{"i":545,"h":1.3435,"l":1.3429,"m":0.00065,"s":0.00067},
{"i":546,"h":1.3433,"l":1.3424,"m":0.00062,"s":0.00065},
{"i":547,"h":1.3429,"l":1.3421,"m":0.00062,"s":0.00062},
{"i":548,"h":1.3426,"l":1.3407,"m":0.00054,"s":0.00062},
{"i":549,"h":1.3416,"l":1.3407,"m":0.00047,"s":0.00054},
{"i":550,"h":1.3435,"l":1.3407,"m":0.00039,"s":0.00047},
{"i":551,"h":1.3435,"l":1.3415,"m":0.00037,"s":0.00039},
{"i":552,"h":1.3435,"l":1.3412,"m":0.00034,"s":0.00037},
{"i":553,"h":1.3419,"l":1.3407,"m":0.00032,"s":0.00034},
{"i":554,"h":1.3414,"l":1.3391,"m":0.0003,"s":0.00032},
{"i":555,"h":1.3421,"l":1.3404,"m":0.00024,"s":0.0003},
{"i":556,"h":1.3421,"l":1.3401,"m":0.00018,"s":0.00024},
{"i":557,"h":1.3411,"l":1.3391,"m":0.00012,"s":0.00018},
{"i":558,"h":1.3398,"l":1.3391,"m":0.00006,"s":0.00012},
{"i":559,"h":1.3398,"l":1.3391,"m":0,"s":0.00006},
{"i":560,"h":1.3398,"l":1.339,"m":-0.00011,"s":0},
{"i":561,"h":1.3398,"l":1.3388,"m":-0.00022,"s":-0.00011},
{"i":562,"h":1.3386,"l":1.3368,"m":-0.00033,"s":-0.00022},
{"i":563,"h":1.3386,"l":1.3369,"m":-0.00039,"s":-0.00033},
{"i":564,"h":1.3386,"l":1.3371,"m":-0.00045,"s":-0.00039},
{"i":565,"h":1.3378,"l":1.3364,"m":-0.00051,"s":-0.00045},
{"i":566,"h":1.3382,"l":1.3369,"m":-0.00055,"s":-0.00051},
{"i":567,"h":1.3376,"l":1.3375,"m":-0.00058,"s":-0.00055}
]},
"vconcat":[
{"width":1425,"height":583,
"layer":[
{"data":{"name":"levels"},"transform":[{"filter":"datum.k == 'last'"}],
"mark":{"type":"rule","color":"#c0c0c0","strokeWidth":1},
"encoding":{"y":{"field":"p","type":"quantitative","scale":{"domain":[1.31095,1.35008],"nice":false,"zero":false},
"axis":{"orient":"right","values":[1.3115,1.314,1.3165,1.319,1.3215,1.324,1.3265,1.329,1.3315,1.334,1.3365,1.339,1.3415,1.344,1.3465,1.349],"tickCount":200,"format":".4f","tickSize":3,"labelPadding":2,"grid":false,"domain":true,"labelBaseline":"middle","labelOverlap":false,"labelBound":false,"labelFlush":false}}}},
{"data":{"name":"bars"},
"mark":{"type":"rule","color":"#000000","strokeWidth":1},
"encoding":{"x":{"field":"i","type":"quantitative","scale":{"domain":[-0.25,712.25],"nice":false,"zero":false},
"axis":{"values":[9.5,33.5,57.5,81.5,105.5,129.5,153.5,177.5,201.5,225.5,249.5,273.5,297.5,321.5,345.5,369.5,393.5,417.5,441.5,465.5,489.5,513.5,537.5,561.5,585.5],"tickCount":200,"grid":true,"gridDash":[4,2],"gridColor":"#000000","gridWidth":1,"gridOpacity":1,"labels":false,"ticks":false,"domain":false}},
"y":{"field":"h","type":"quantitative"},"y2":{"field":"l"}}},
{"data":{"name":"levels"},"transform":[{"filter":"datum.k == 'level'"}],
"mark":{"type":"rule","color":"#ff0000","strokeWidth":2},
"encoding":{"y":{"field":"p","type":"quantitative"}}},
{"data":{"name":"trends"},
"mark":{"type":"rule","color":"#ff0000","strokeWidth":2},
"encoding":{"x":{"field":"i1","type":"quantitative"},"x2":{"field":"i2"},"y":{"field":"p1","type":"quantitative"},"y2":{"field":"p2"}}},
{"data":{"name":"levels"},
"mark":{"type":"point","shape":"M-1,-0.28H1V0.28H-1Z","filled":true,"size":1296,"opacity":1,"strokeWidth":0},
"encoding":{"x":{"datum":722.25,"type":"quantitative"},"y":{"field":"p","type":"quantitative"},
"color":{"field":"k","type":"nominal","scale":{"domain":["level","last"],"range":["#ff0000","#000000"]},"legend":null}}},
{"data":{"name":"levels"},
"mark":{"type":"text","color":"#ffffff","fontSize":9,"align":"left","baseline":"middle","font":"Liberation Sans"},
"encoding":{"x":{"datum":714.75,"type":"quantitative"},"y":{"field":"p","type":"quantitative"},"text":{"field":"p","format":".4f"}}},
{"data":{"values":[{}]},
"mark":{"type":"point","shape":"M-1,-0.5L1,-0.5L0,0.5Z","filled":true,"size":64,"opacity":1,"color":"#000000","strokeWidth":0},
"encoding":{"x":{"datum":3.75,"type":"quantitative"},"y":{"datum":1.34961,"type":"quantitative"}}},
{"data":{"values":[{}]},
"mark":{"type":"text","text":"GBPUSD,H1  1.3375 1.3376 1.3375 1.3376","color":"#000000","fontSize":9.5,"align":"left","baseline":"middle","font":"Liberation Sans"},
"encoding":{"x":{"datum":7.75,"type":"quantitative"},"y":{"datum":1.34961,"type":"quantitative"}}}
]},
{"width":1425,"height":142,
"layer":[
{"data":{"name":"bars"},
"mark":{"type":"rule","color":"#c0c0c0","strokeWidth":2,"xOffset":0.5},
"encoding":{"x":{"field":"i","type":"quantitative","scale":{"domain":[-0.25,712.25],"nice":false,"zero":false},
"axis":{"values":[0,9.5,32,33.5,57.5,64,81.5,96,105.5,128,129.5,153.5,160,177.5,192,201.5,224,225.5,249.5,256,273.5,288,297.5,320,321.5,345.5,352,369.5,384,393.5,416,417.5,441.5,448,465.5,480,489.5,512,513.5,537.5,544,561.5,585.5],"tickCount":200,
"grid":true,"gridDash":[4,2],"gridColor":"#000000","gridWidth":1,"gridOpacity":{"condition":{"test":"datum.value % 32 == 0","value":0},"value":1},
"ticks":false,"tickSize":0,"domain":false,"labelAlign":"left","labelBaseline":"top","labelPadding":2,"labelOverlap":false,"labelFlush":false,"labelBound":false,
"labelExpr":"datum.value % 32 == 0 ? ['9 Jun 2026','10 Jun 23:00','12 Jun 07:00','15 Jun 15:00','16 Jun 23:00','18 Jun 07:00','19 Jun 15:00','22 Jun 23:00','24 Jun 07:00','25 Jun 15:00','26 Jun 23:00','30 Jun 07:00','1 Jul 15:00','2 Jul 23:00','6 Jul 07:00','7 Jul 15:00','8 Jul 23:00','10 Jul 07:00'][datum.value / 32] : ''"}},
"y":{"field":"m","type":"quantitative","scale":{"domain":[-0.002752,0.001996],"nice":false,"zero":false},
"axis":{"orient":"right","values":[0.00176,0,-0.00251],"tickCount":200,"tickSize":3,"labelPadding":1,"labelFontSize":8.5,"grid":false,"domain":true,"labelBaseline":"middle","labelOverlap":false,"labelBound":false,"labelFlush":false,
"labelExpr":"datum.value == 0 ? '0.00' : (datum.value < 0 ? '-' : '') + format(abs(datum.value), '.5f')"}},
"y2":{"datum":0}}},
{"data":{"name":"bars"},
"mark":{"type":"line","color":"#ff0000","strokeWidth":1},
"encoding":{"x":{"field":"i","type":"quantitative"},"y":{"field":"s","type":"quantitative"}}},
{"data":{"values":[{}]},
"mark":{"type":"text","text":"MACD(14,22,3) -0.00058 -0.00055","color":"#000000","fontSize":9.3,"align":"left","baseline":"middle","font":"Liberation Sans"},
"encoding":{"x":{"datum":2.75,"type":"quantitative"},"y":{"datum":0.001662,"type":"quantitative"}}},
{"data":{"values":[{}]},
"mark":{"type":"rect","color":"#555555","opacity":0.8},
"encoding":{"x":{"datum":-1.25,"type":"quantitative"},"x2":{"datum":88.75},"y":{"datum":-0.00195,"type":"quantitative"},"y2":{"datum":-0.00345}}},
{"data":{"values":[{}]},
"mark":{"type":"text","text":"⚙","color":"#e6e6e6","fontSize":40,"align":"center","baseline":"middle","font":"DejaVu Sans"},
"encoding":{"x":{"datum":9.75,"type":"quantitative"},"y":{"datum":-0.00269,"type":"quantitative"}}},
{"data":{"values":[{}]},
"mark":{"type":"text","text":"instaforex","color":"#eeeeee","fontSize":28,"align":"left","baseline":"middle","font":"Liberation Sans"},
"encoding":{"x":{"datum":22.75,"type":"quantitative"},"y":{"datum":-0.00257,"type":"quantitative"}}},
{"data":{"values":[{}]},
"mark":{"type":"text","text":"Instant Forex Trading","color":"#e6e6e6","fontSize":11,"align":"left","baseline":"middle","font":"Liberation Sans"},
"encoding":{"x":{"datum":22.75,"type":"quantitative"},"y":{"datum":-0.00319,"type":"quantitative"}}}
]}
]
}
